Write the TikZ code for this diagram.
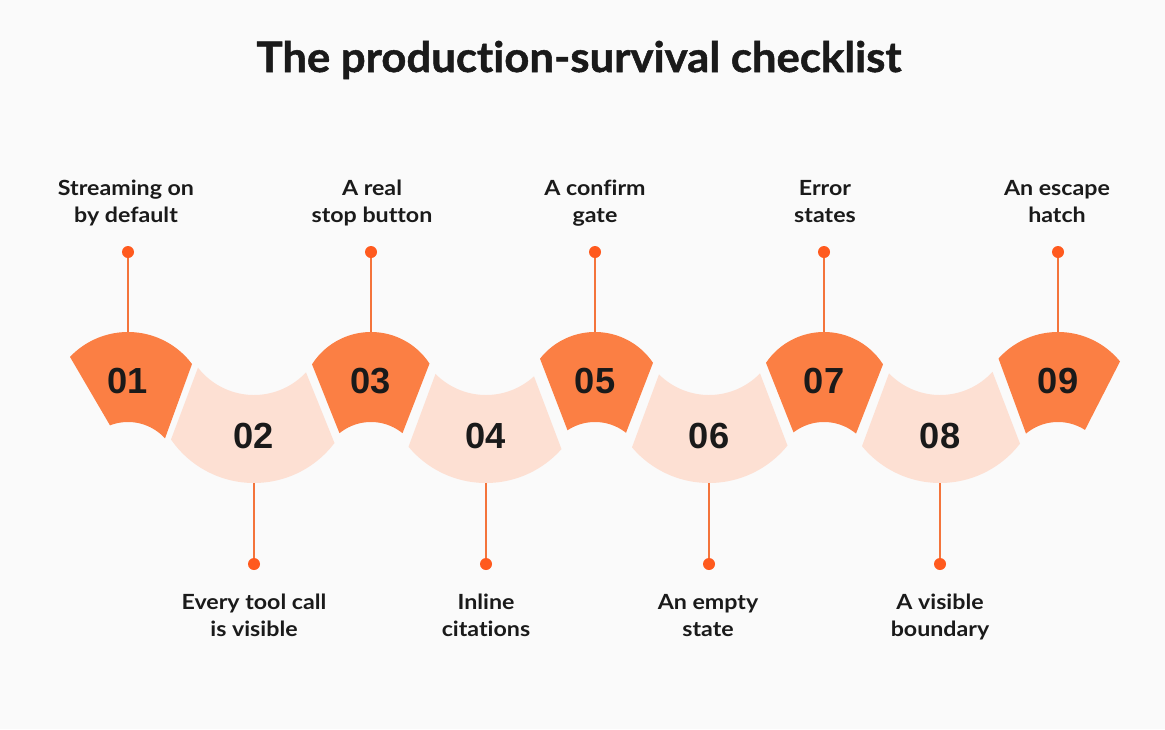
\documentclass[tikz,border=0pt]{standalone}
\usepackage{fontspec}
\setmainfont{Lato}
\newfontfamily\titlefont[FakeStretch=1.04, Ligatures={NoCommon}, BoldFeatures={FakeBold=1.2}]{Lato}
\newfontfamily\labelfont[FakeStretch=1.11, Ligatures={NoCommon}]{Lato}
\newfontfamily\numfont{Liberation Sans}
\usepackage{xcolor}
\usetikzlibrary{positioning,calc}
\definecolor{segdark}{HTML}{FB7F44}
\definecolor{seglight}{HTML}{FDE0D3}
\definecolor{stemcol}{HTML}{F4743B}
\definecolor{dotcol}{HTML}{FF5A1E}
\definecolor{bgcol}{HTML}{FAFAFA}
\definecolor{inkcol}{HTML}{1A1A1A}
\tikzset{
  figtitle/.style={font=\titlefont\fontsize{42}{48}\selectfont\bfseries, text=inkcol, inner sep=0pt, anchor=base},
  figlabel/.style={font=\labelfont\fontsize{20.9}{27}\selectfont\bfseries, text=inkcol, align=center, inner sep=0pt, anchor=base},
  fignum/.style={font=\numfont\fontsize{36.3}{36}\selectfont\bfseries, text=inkcol, inner sep=0pt, anchor=base},
  figdot/.style={circle, fill=dotcol, inner sep=0pt, minimum size=12pt},
  figstem/.style={draw=stemcol, line width=1.6pt},
  segdarkfill/.style={fill=segdark},
  seglightfill/.style={fill=seglight},
}
% raised piece: centre, top radius, top-left, top-right, bottom-left, bottom-right x
\newcommand{\archpart}[6]{%
  \fill[segdarkfill] plot[domain=#3:#4, samples=40] (\x,{archtop(\x-#1,#2)})
    -- plot[domain=#6:#5, samples=30] (\x,{archbot(\x-#1)}) -- cycle;}
% sunken piece: centre, top-left, top-right, bottom-left, bottom-right x
\newcommand{\bowlpart}[5]{%
  \fill[seglightfill] plot[domain=#2:#3, samples=40] (\x,{bowltop(\x-#1)})
    -- plot[domain=#5:#4, samples=40] (\x,{bowlbot(\x-#1)}) -- cycle;}
\begin{document}
\begin{tikzpicture}[x=1pt, y=-1pt,
  declare function={
    archtop(\dx,\rr)=332+\rr-sqrt(\rr*\rr-\dx*\dx);
    archbot(\dx)=422+50-sqrt(2500-\dx*\dx);
    bowltop(\dx)=395-71+sqrt(5041-\dx*\dx);
    bowlbot(\dx)=483-101+sqrt(10201-\dx*\dx);}]
  \fill[bgcol] (0,0) rectangle (1165,729);
  \useasboundingbox (0,0) rectangle (1165,729);

  \node[figtitle] (title) at (579,72) {The production-survival checklist};

  % wave band
  \archpart{128}{80}{70}{192}{110}{165}
  \bowlpart{254}{198}{306}{171}{334.5}
  \archpart{371}{70}{312}{429.5}{339.5}{402.5}
  \bowlpart{486}{435.5}{534}{408.5}{561.5}
  \archpart{595}{70}{540}{653}{567.5}{626}
  \bowlpart{709}{659}{760}{632}{787.5}
  \archpart{824}{70}{766}{883}{793.5}{856}
  \bowlpart{940}{889}{992.5}{862}{1020}
  \archpart{1058}{80}{998.5}{1120}{1026}{1085}

  % numbers
  \node[fignum] (n1) at (128,393) {01};
  \node[fignum] (n2) at (254,448) {02};
  \node[fignum] (n3) at (371,393) {03};
  \node[fignum] (n4) at (486,448) {04};
  \node[fignum] (n5) at (595,393) {05};
  \node[fignum] (n6) at (709,448) {06};
  \node[fignum] (n7) at (824,393) {07};
  \node[fignum] (n8) at (940,448) {08};
  \node[fignum] (n9) at (1058,393) {09};

  % stem ends on the band
  \coordinate (s1) at (128,332);
  \coordinate (s2) at (254,483);
  \coordinate (s3) at (371,332);
  \coordinate (s4) at (486,483);
  \coordinate (s5) at (595,332);
  \coordinate (s6) at (709,483);
  \coordinate (s7) at (824,332);
  \coordinate (s8) at (940,483);
  \coordinate (s9) at (1058,332);

  % dots
  \node[figdot] (d1) at (128,252) {};
  \node[figdot] (d2) at (254,564) {};
  \node[figdot] (d3) at (371,252) {};
  \node[figdot] (d4) at (486,564) {};
  \node[figdot] (d5) at (595,252) {};
  \node[figdot] (d6) at (709,564) {};
  \node[figdot] (d7) at (824,252) {};
  \node[figdot] (d8) at (940,564) {};
  \node[figdot] (d9) at (1058,252) {};

  \draw[figstem] (d1) -- (s1);
  \draw[figstem] (d2) -- (s2);
  \draw[figstem] (d3) -- (s3);
  \draw[figstem] (d4) -- (s4);
  \draw[figstem] (d5) -- (s5);
  \draw[figstem] (d6) -- (s6);
  \draw[figstem] (d7) -- (s7);
  \draw[figstem] (d8) -- (s8);
  \draw[figstem] (d9) -- (s9);

  % labels (base = last line)
  \node[figlabel] (l1) at (126,222) {Streaming on\\by default};
  \node[figlabel] (l2) at (254,636) {Every tool call\\is visible};
  \node[figlabel] (l3) at (372,222) {A real\\stop button};
  \node[figlabel] (l4) at (486,636) {Inline\\citations};
  \node[figlabel] (l5) at (595,222) {A confirm\\gate};
  \node[figlabel] (l6) at (708,636) {An empty\\state};
  \node[figlabel] (l7) at (825,222) {Error\\states};
  \node[figlabel] (l8) at (940,636) {A visible\\boundary};
  \node[figlabel] (l9) at (1057,222) {An escape\\hatch};
\end{tikzpicture}
\end{document}
